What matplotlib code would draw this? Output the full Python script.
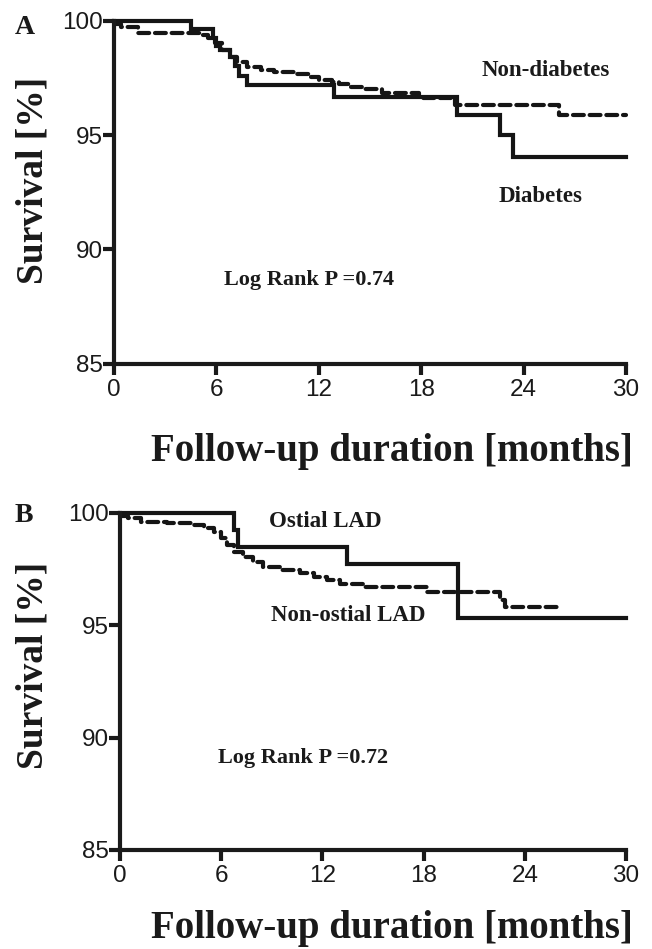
import numpy as np
import matplotlib
matplotlib.use("Agg")
import matplotlib.pyplot as plt

# ---- data ----
# panel A
t_dm = [0, 4.5, 5.8, 6.0, 6.2, 6.8, 7.1, 7.3, 7.8, 12.9, 20.1, 22.6, 23.4, 30]
s_dm = [100, 99.62, 99.23, 98.9, 98.72, 98.43, 98.0, 97.6, 97.2, 96.68, 95.88, 95.0, 94.05, 94.05]

t_nd = [0, 0.4, 1.4, 5.1, 5.5, 5.9, 6.3, 6.8, 7.2, 7.8, 8.6, 9.4, 10.6, 11.4,
        12.0, 12.8, 13.2, 13.8, 14.6, 15.7, 17.9, 20.0, 26.1, 30]
s_nd = [99.85, 99.74, 99.45, 99.37, 99.23, 99.01, 98.72, 98.43, 98.21, 97.99, 97.84, 97.77, 97.67, 97.55,
        97.41, 97.33, 97.23, 97.09, 97.0, 96.85, 96.6, 96.31, 95.88, 95.88]

# panel B
t_os = [0, 6.75, 7.0, 13.45, 20.04, 30]
s_os = [100, 99.22, 98.49, 97.7, 95.3, 95.3]

t_no = [0, 0.45, 1.24, 2.8, 4.4, 5.0, 5.55, 5.96, 6.36, 6.75, 7.3, 7.9, 8.5, 9.5,
        10.7, 11.5, 12.3, 13.05, 14.4, 18.2, 22.5, 22.8, 26.2]
s_no = [99.85, 99.75, 99.6, 99.53, 99.45, 99.3, 99.15, 98.86, 98.56, 98.27, 98.04, 97.82, 97.6, 97.45,
        97.3, 97.15, 97.0, 96.85, 96.7, 96.48, 96.1, 95.82, 95.82]

x_ticks = [0, 6, 12, 18, 24, 30]
y_ticks = [85, 90, 95, 100]

W, H = 652, 949
fig = plt.figure(figsize=(W / 100, H / 100), dpi=100)

serif = ["Liberation Serif", "DejaVu Serif"]
sans = ["Liberation Sans", "DejaVu Sans"]


def make_axes(left, top, right, bottom):
    # pixel box -> figure fraction
    return fig.add_axes([left / W, 1 - bottom / H, (right - left) / W, (bottom - top) / H])


def style(ax):
    ax.set_xlim(0, 30)
    ax.set_ylim(85, 100)
    ax.set_xticks(x_ticks)
    ax.set_yticks(y_ticks)
    for side in ["top", "right"]:
        ax.spines[side].set_visible(False)
    for side in ["left", "bottom"]:
        ax.spines[side].set_linewidth(3.0)
        ax.spines[side].set_color("#1a1a1a")
    ax.tick_params(axis="both", width=3.0, length=8, labelsize=17.5, direction="out",
                   color="#1a1a1a", labelcolor="#1a1a1a")
    ax.tick_params(axis="x", pad=3)
    ax.tick_params(axis="y", pad=0)
    for lab in ax.get_xticklabels() + ax.get_yticklabels():
        lab.set_family(sans)


def km(ax, t, s, dashed=False):
    line, = ax.step(t, s, where="post", color="#151515", lw=3.0, clip_on=False,
                    solid_joinstyle="miter")
    if dashed:
        line.set_dashes([2.6, 1.4])
        line.set_dash_capstyle("round")
    return line


# panel A
axA = make_axes(114, 20.7, 626, 363.6)
style(axA)
km(axA, t_nd, s_nd, dashed=True)
km(axA, t_dm, s_dm)
axA.text(25.3, 97.84, "Non-diabetes", family=serif, weight="bold", fontsize=16.5,
         ha="center", va="center", color="#1a1a1a")
axA.text(25.0, 92.3, "Diabetes", family=serif, weight="bold", fontsize=16.5,
         ha="center", va="center", color="#1a1a1a")
axA.text(11.4, 88.66, "Log Rank P =0.74", family=serif, weight="bold", fontsize=16,
         ha="center", va="center", color="#1a1a1a")

# panel B
axB = make_axes(120, 512.7, 626, 850)
style(axB)
km(axB, t_no, s_no, dashed=True)
km(axB, t_os, s_os)
axB.text(12.15, 99.6, "Ostial LAD", family=serif, weight="bold", fontsize=16.5,
         ha="center", va="center", color="#1a1a1a")
axB.text(13.55, 95.44, "Non-ostial LAD", family=serif, weight="bold", fontsize=16.5,
         ha="center", va="center", color="#1a1a1a")
axB.text(10.85, 89.1, "Log Rank P =0.72", family=serif, weight="bold", fontsize=16,
         ha="center", va="center", color="#1a1a1a")

# panel letters and axis titles (placed in pixels)
for letter, y in [("A", 27), ("B", 515)]:
    fig.text(15 / W, 1 - y / H, letter, family=serif, weight="bold", fontsize=20,
             ha="left", va="center", color="#1a1a1a")

for yc in [180, 665]:
    fig.text(33 / W, 1 - yc / H, "Survival [%]", family=serif, weight="bold", fontsize=27,
             rotation=90, ha="center", va="center", color="#1a1a1a")

for yb in [461, 938]:
    fig.text(392 / W, 1 - yb / H, "Follow-up duration [months]", family=serif, weight="bold",
             fontsize=28, ha="center", va="baseline", color="#1a1a1a")

fig.savefig("out.png", dpi=100)
